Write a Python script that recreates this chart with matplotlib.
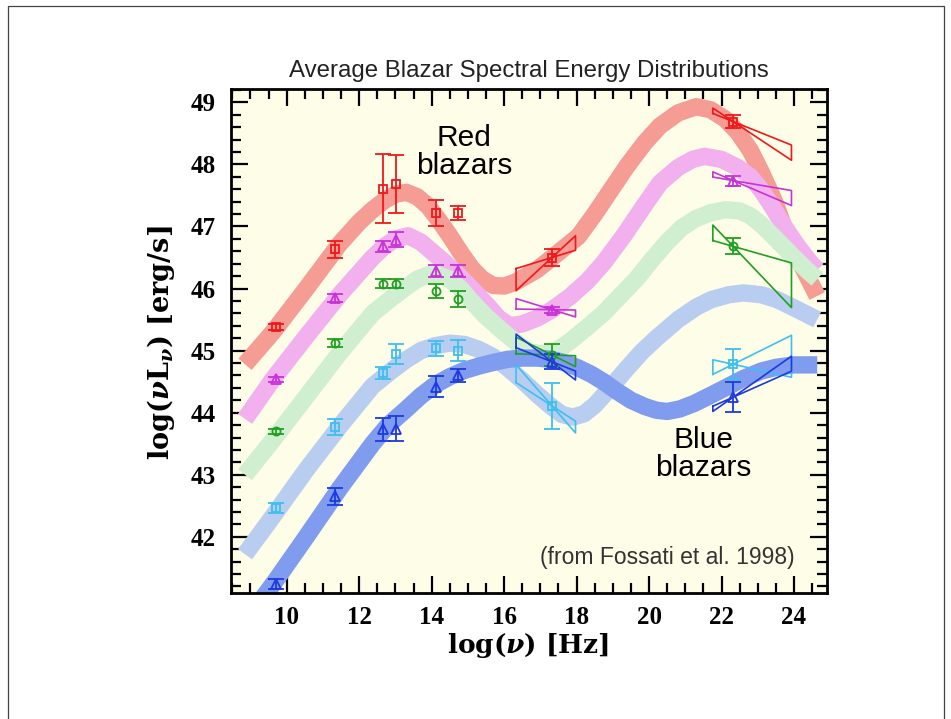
import matplotlib
matplotlib.use('Agg')
import matplotlib.pyplot as plt
import numpy as np
from matplotlib.ticker import MultipleLocator
from matplotlib.patches import Rectangle

# ---------------- data ----------------
# model SED curves (thick bands), log(nu) vs log(nuL_nu)
red_curve_x = [8.85, 9.62, 10.54, 11.46, 12.0, 12.37, 12.7, 13.0, 13.3, 13.6, 13.9, 14.2, 14.5, 14.8, 15.1, 15.4, 15.7, 16.0, 16.3, 16.9, 17.5, 18.05, 18.5, 18.96, 19.4, 19.88, 20.3, 20.8, 21.3, 21.7, 22.1, 22.45, 22.8, 23.1, 23.45, 23.75, 24.1, 24.45, 24.64]
red_curve_y = [44.78, 45.3, 46.0, 46.72, 47.07, 47.27, 47.42, 47.52, 47.55, 47.48, 47.33, 47.1, 46.85, 46.58, 46.33, 46.15, 46.05, 46.04, 46.1, 46.3, 46.58, 46.84, 47.2, 47.6, 47.98, 48.35, 48.62, 48.83, 48.93, 48.88, 48.73, 48.52, 48.22, 47.87, 47.42, 46.95, 46.5, 46.1, 45.88]

pink_curve_x = [8.85, 9.62, 10.54, 11.46, 12.37, 12.7, 13.0, 13.35, 13.7, 14.0, 14.3, 14.74, 15.1, 15.52, 15.85, 16.16, 16.5, 16.9, 17.3, 17.82, 18.3, 18.74, 19.3, 19.88, 20.3, 20.8, 21.2, 21.53, 22.0, 22.45, 22.8, 23.08, 23.4, 23.73, 24.1, 24.46, 24.64]
pink_curve_y = [43.9, 44.54, 45.23, 45.9, 46.5, 46.68, 46.8, 46.85, 46.75, 46.6, 46.45, 46.22, 46.0, 45.74, 45.52, 45.4, 45.43, 45.52, 45.65, 45.87, 46.12, 46.41, 46.85, 47.35, 47.7, 47.95, 48.08, 48.13, 48.08, 47.95, 47.8, 47.6, 47.32, 47.0, 46.68, 46.41, 46.3]

green_curve_x = [8.85, 9.62, 10.54, 11.46, 12.37, 12.9, 13.29, 13.6, 13.9, 14.2, 14.5, 14.8, 15.06, 15.5, 15.98, 16.44, 16.7, 17.0, 17.4, 17.82, 18.3, 18.74, 19.2, 19.66, 20.1, 20.5, 20.9, 21.3, 21.7, 22.1, 22.5, 22.8, 23.1, 23.5, 24.0, 24.35, 24.64]
green_curve_y = [43.0, 43.56, 44.26, 44.96, 45.6, 45.85, 46.02, 46.15, 46.22, 46.22, 46.15, 46.0, 45.82, 45.55, 45.3, 45.08, 44.98, 44.95, 44.98, 45.15, 45.38, 45.6, 45.88, 46.16, 46.48, 46.75, 46.98, 47.13, 47.22, 47.27, 47.25, 47.17, 47.03, 46.8, 46.5, 46.3, 46.15]

lblue_curve_x = [8.85, 9.62, 10.54, 11.46, 12.37, 12.9, 13.29, 13.7, 14.1, 14.5, 14.9, 15.3, 15.7, 16.1, 16.5, 16.9, 17.3, 17.6, 17.9, 18.2, 18.5, 18.96, 19.4, 19.8, 20.2, 20.8, 21.3, 21.71, 22.2, 22.6, 23.1, 23.54, 24.1, 24.64]
lblue_curve_y = [41.72, 42.33, 43.08, 43.78, 44.43, 44.68, 44.85, 45.0, 45.08, 45.12, 45.1, 45.02, 44.9, 44.72, 44.52, 44.3, 44.1, 43.97, 43.93, 43.98, 44.12, 44.42, 44.72, 44.98, 45.2, 45.5, 45.7, 45.82, 45.9, 45.93, 45.9, 45.82, 45.66, 45.5]

blue_curve_x = [9.0, 9.7, 10.54, 11.46, 12.37, 12.8, 13.29, 13.7, 14.1, 14.5, 14.9, 15.3, 15.7, 16.1, 16.5, 16.9, 17.3, 17.7, 18.05, 18.4, 18.74, 19.1, 19.5, 19.88, 20.2, 20.5, 20.85, 21.25, 21.7, 22.17, 22.6, 23.09, 23.5, 24.0, 24.64]
blue_curve_y = [40.75, 41.3, 42.0, 42.78, 43.5, 43.8, 44.05, 44.27, 44.45, 44.58, 44.68, 44.75, 44.81, 44.86, 44.88, 44.88, 44.86, 44.8, 44.72, 44.62, 44.5, 44.35, 44.2, 44.1, 44.04, 44.02, 44.06, 44.15, 44.28, 44.42, 44.55, 44.67, 44.73, 44.77, 44.77]

# averaged data points (radio, mm, 60um, 25um, K, V, X-ray 1keV, gamma 100MeV)
point_x = [9.7, 11.34, 12.65, 13.03, 14.13, 14.74, 17.32, 22.32]
red_y = [45.38, 46.63, 47.61, 47.68, 47.21, 47.22, 46.5, 48.69]
red_err = [0.05, 0.13, 0.55, 0.47, 0.21, 0.11, 0.14, 0.1]
pink_y = [44.54, 45.85, 46.68, 46.79, 46.28, 46.28, 45.66, 47.74]
pink_err = [0.04, 0.06, 0.09, 0.12, 0.1, 0.1, 0.05, 0.08]
green_y = [43.70, 45.12, 46.08, 46.08, 45.96, 45.83, 44.93, 46.68]
green_err = [0.04, 0.06, 0.07, 0.07, 0.12, 0.13, 0.17, 0.13]
lblue_y = [42.46, 43.77, 44.64, 44.94, 45.04, 45.0, 44.11, 44.78]
lblue_err = [0.08, 0.13, 0.1, 0.16, 0.12, 0.17, 0.37, 0.24]
blue_y = [41.24, 42.65, 43.73, 43.74, 44.42, 44.6, 44.82, 44.25]
blue_err = [0.08, 0.14, 0.19, 0.2, 0.17, 0.1, 0.12, 0.24]

# bow-ties: energy ranges and spectral slope ranges (in nuL_nu) for X-ray and gamma bands
xray_range = (16.33, 17.97)
gamma_range = (21.76, 23.93)
red_slopes = [(0.18, 0.54), (-0.235, -0.387)]
pink_slopes = [(-0.01, -0.18), (-0.10, -0.25)]
green_slopes = [(-0.02, -0.29), (-0.166, -0.613)]
lblue_slopes = [(-0.38, -0.67), (0.29, -0.13)]
blue_slopes = [(-0.23, -0.45), (0.26, 0.41)]

# tick labels
xticks = [10, 12, 14, 16, 18, 20, 22, 24]
yticks = [42, 43, 44, 45, 46, 47, 48, 49]

# ---------------- style ----------------
plt.rcParams['mathtext.fontset'] = 'custom'
plt.rcParams['mathtext.rm'] = 'DejaVu Serif:bold'
plt.rcParams['mathtext.it'] = 'DejaVu Serif:italic:bold'
plt.rcParams['mathtext.bf'] = 'DejaVu Serif:bold'

fig = plt.figure(figsize=(9.51, 7.19), dpi=100)
fig.patch.set_facecolor('white')
fig.patches.append(Rectangle((8 / 951, -0.02), 936 / 951, 1.02 - 5.5 / 719,
                             transform=fig.transFigure, fill=False,
                             edgecolor='#444444', lw=0.9))

ax = fig.add_axes([0.2426, 0.1748, 0.6270, 0.7010])
ax.set_facecolor('#fefde8')

series = [
    (red_curve_x, red_curve_y, '#f59c94', red_y, red_err, 's', '#f01818', red_slopes),
    (pink_curve_x, pink_curve_y, '#f2b0ef', pink_y, pink_err, '^', '#c832d8', pink_slopes),
    (green_curve_x, green_curve_y, '#d0efd0', green_y, green_err, 'o', '#20a020', green_slopes),
    (lblue_curve_x, lblue_curve_y, '#b9cdf1', lblue_y, lblue_err, 's', '#3cc0f0', lblue_slopes),
    (blue_curve_x, blue_curve_y, '#7f9cee', blue_y, blue_err, '^', '#1c3ae0', blue_slopes),
]

for cx, cy, bandcol, *_ in series:
    ax.plot(cx, cy, color=bandcol, lw=12.5, solid_capstyle='butt',
            solid_joinstyle='round', zorder=2)

for cx, cy, bandcol, py, perr, mk, col, slopes in series:
    for (x1, x2), (s1, s2), xp, yp in zip([xray_range, gamma_range], slopes,
                                          [point_x[6], point_x[7]], [py[6], py[7]]):
        bx = [x1, x2, x2, x1, x1]
        by = [yp + s1 * (x1 - xp), yp + s1 * (x2 - xp), yp + s2 * (x2 - xp),
              yp + s2 * (x1 - xp), yp + s1 * (x1 - xp)]
        ax.plot(bx, by, color=col, lw=1.2, zorder=3)
    ms = 6.5 if mk == '^' else 5.8
    ax.errorbar(point_x, py, yerr=perr, fmt=mk, ms=ms, mfc='none', mec=col,
                mew=1.3, ecolor=col, elinewidth=1.3, capsize=5.5, capthick=1.3,
                zorder=4)

ax.set_xlim(8.455, 24.91)
ax.set_ylim(41.09, 49.21)
ax.set_xticks(xticks)
ax.set_yticks(yticks)
ax.xaxis.set_minor_locator(MultipleLocator(0.5))
ax.yaxis.set_minor_locator(MultipleLocator(0.2))
ax.tick_params(which='both', direction='in', top=True, right=True, width=1.6,
               color='black')
ax.tick_params(which='major', length=12)
ax.tick_params(which='minor', length=7)
ax.tick_params(axis='x', which='major', pad=9)
ax.tick_params(axis='y', which='major', pad=11)
for lab in ax.get_xticklabels() + ax.get_yticklabels():
    lab.set_fontfamily('Liberation Serif')
    lab.set_fontweight('bold')
    lab.set_fontsize(18)
for sp in ax.spines.values():
    sp.set_linewidth(2.0)

# labels
fig.text(161 / 951, 1 - 343 / 719, r'log($\nu$L$_{\nu}$) [erg/s]',
         rotation=90, ha='center', va='center', fontsize=19.5,
         fontfamily='DejaVu Serif', fontweight='bold')
fig.text(528 / 951, 1 - 646 / 719, r'log($\nu$) [Hz]', ha='center',
         va='center', fontsize=19, fontfamily='DejaVu Serif', fontweight='bold')
fig.text(0.5561, 1 - 71 / 719, 'Average Blazar Spectral Energy Distributions',
         ha='center', va='center', fontsize=17.3, fontfamily='Liberation Sans',
         color='#222222')

ax.text(14.89, 48.2, 'Red\nblazars', ha='center', va='center', fontsize=21.5,
        fontfamily='Liberation Sans', linespacing=1.0, zorder=5)
ax.text(21.49, 43.33, 'Blue\nblazars', ha='center', va='center', fontsize=21.5,
        fontfamily='Liberation Sans', linespacing=1.0, zorder=5)
ax.text(24.03, 41.66, '(from Fossati et al. 1998)', ha='right', va='center',
        fontsize=16.5, fontfamily='Liberation Sans', color='#333333', zorder=5)

fig.savefig('out.png', dpi=100)
